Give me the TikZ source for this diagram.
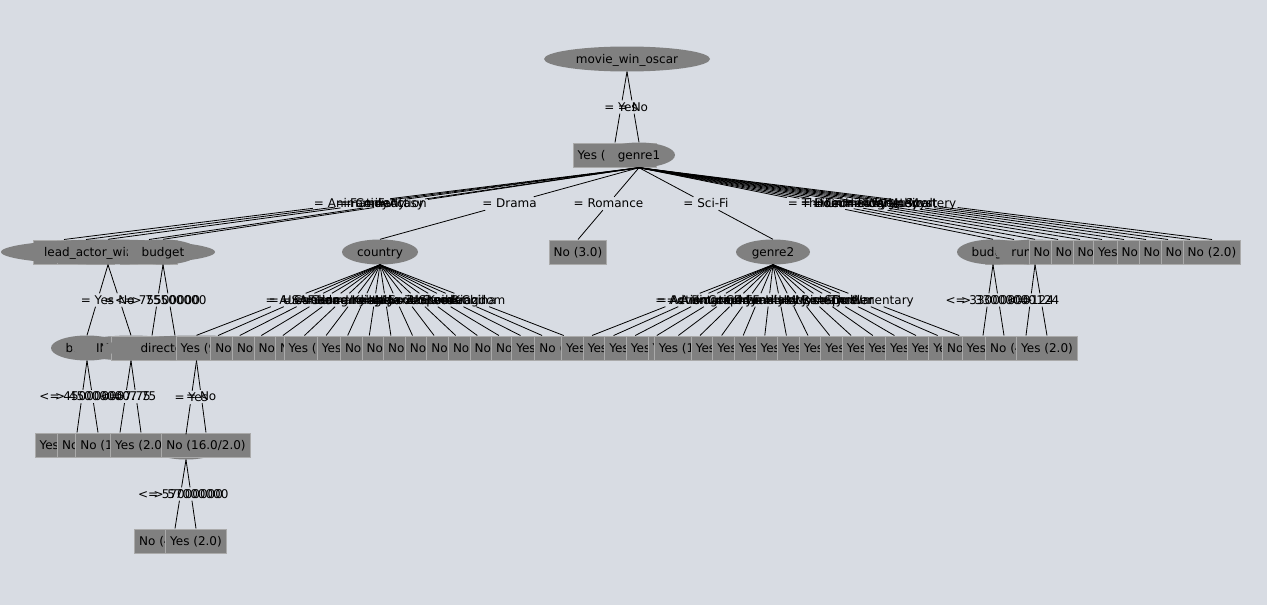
\documentclass[tikz,border=0pt]{standalone}
\usepackage{fontspec}
\setmainfont{DejaVu Sans}
\usetikzlibrary{shapes.geometric,calc}

\definecolor{canvas}{RGB}{216,220,227}
\definecolor{nodegray}{RGB}{128,128,128}
\definecolor{rimgray}{RGB}{170,170,170}

\begin{document}
\begin{tikzpicture}[
    x=1pt,
    y=-1pt,
    every node/.style={
      font=\fontsize{12}{14}\selectfont,
      text height=10pt,
      text depth=2pt
    },
    split/.style={
      ellipse,
      fill=nodegray,
      minimum height=25pt,
      inner sep=0pt
    },
    leaf/.style={
      rectangle,
      fill=nodegray,
      draw=rimgray,
      line width=1pt,
      minimum height=24pt,
      inner xsep=4.5pt,
      inner ysep=0pt
    },
    cond/.style={
      inner xsep=1pt,
      inner ysep=0.5pt
    },
    branch/.style={
      line width=0.8pt
    }
  ]
    \fill[canvas] (0,0) rectangle (1267,605);
    \useasboundingbox (0,0) rectangle (1267,605);

    % level 0 and 1
    \node[split,minimum width=166pt] (oscar) at (627,59) {movie\_win\_oscar};
    \node[leaf] (yes0) at (615,155) {Yes (7.0/1.0)};
    \node[split,minimum width=72pt] (genre1) at (639,155) {genre1};

    % level 2
    \foreach \x/\n/\t in {64/a1/Yes (1.0),86/a2/No (1.0),149/a4/No (1.0),1014/r2/No (1.0)}
      \node[leaf] (\n) at (\x,252) {\t};
    \node[split,minimum width=214pt] (lead) at (108,252) {lead\_actor\_win\_oscar};
    \node[split,minimum width=72pt] (budgetA) at (163,252) {budget};
    \node[split,minimum width=76pt] (country) at (380,252) {country};
    \node[leaf] (romance) at (578,252) {No (3.0)};
    \node[split,minimum width=74pt] (genre2) at (773,252) {genre2};
    \node[split,minimum width=72pt] (budgetB) at (993,252) {budget};
    \node[split,minimum width=80pt] (runtime) at (1035,252) {runtime};
    \foreach \x/\n/\t in {1058/r4/No (1.0),1080/r5/No (1.0),1102/r6/No (1.0),1124/r7/Yes (1.0),
        1146/r8/No (1.0),1168/r9/No (1.0),1190/r10/No (1.0),1212/r11/No (2.0)}
      \node[leaf] (\n) at (\x,252) {\t};

    % level 3
    \node[split,minimum width=72pt] (budgetC) at (87,348) {budget};
    \node[split,minimum width=118pt] (imdb) at (131,348) {IMDB\_score};
    \node[leaf] (b2) at (175,348) {Yes (3.0)};
    \node[leaf] (b1) at (152,348) {No (5.0/2.0)};
    \node[split,minimum width=190pt] (director) at (196.5,348) {director\_win\_oscar};
    \foreach \i/\t in {1/{Yes (9.0/2.0)},2/No (1.0),3/No (2.0),4/No (1.0),5/No (1.0),6/{Yes (4.0/1.0)},
        7/Yes (2.0),8/No (1.0),9/No (2.0),10/No (1.0),11/No (1.0),12/No (3.0),13/No (1.0),
        14/No (1.0),15/No (1.0),16/Yes (1.0),17/No (1.0)}
      \node[leaf] (c\i) at ({196.5+21.6*\i},348) {\t};
    \foreach \i/\t in {0/Yes (1.0),1/Yes (2.0),2/Yes (1.0),3/Yes (1.0),4/Yes (1.0),5/{Yes (12.0/1.0)},
        6/Yes (2.0),7/Yes (1.0),8/Yes (1.0),9/Yes (1.0),10/Yes (2.0),11/Yes (1.0),12/Yes (1.0),
        13/Yes (1.0),14/Yes (1.0),15/Yes (2.0),16/Yes (1.0),17/Yes (1.0)}
      \node[leaf] (s\i) at ({592+21.6*\i},348) {\t};
    \foreach \x/\n/\t in {983/u1/{No (3.0/1.0)},1004/u2/{Yes (4.0/1.0)},1026/u3/{No (4.0/1.0)},1047/u4/Yes (2.0)}
      \node[leaf] (\n) at (\x,348) {\t};

    % level 4 and 5
    \node[split,minimum width=72pt] (budgetD) at (186,447) {budget};
    \foreach \x/\n/\t in {77/d1/{Yes (5.0/2.0)},98/d2/{No (4.0/1.0)},120/d3/{No (10.0/1.0)},
        141/d4/Yes (2.0),206/d6/{No (16.0/2.0)}}
      \node[leaf] (\n) at (\x,445) {\t};
    \node[leaf] (e1) at (175,541) {No (4.0/1.0)};
    \node[leaf] (e2) at (196,541) {Yes (2.0)};

    % branches with their conditions
    \foreach \p/\c/\l in {oscar/yes0/= Yes,oscar/genre1/= No,
        genre1/a1/= Animation,genre1/a2/= Family,genre1/lead/= Comedy,genre1/a4/= Fantasy,
        genre1/budgetA/= Action,genre1/country/= Drama,genre1/romance/= Romance,genre1/genre2/= Sci-Fi,
        genre1/budgetB/= Thriller,genre1/r2/= Horror,genre1/runtime/= Crime,genre1/r4/= Documentary,
        genre1/r5/= History,genre1/r6/= War,genre1/r7/= Biography,genre1/r8/= Western,
        genre1/r9/= Musical,genre1/r10/= Sport,genre1/r11/= Mystery,
        lead/budgetC/= Yes,lead/imdb/= No,budgetA/b1/<= 75500000,budgetA/b2/> 75500000,
        country/director/= USA,
        budgetB/u1/<= 33000000,budgetB/u2/> 33000000,runtime/u3/<= 124,runtime/u4/> 124,
        budgetC/d1/<= 45000000,budgetC/d2/> 45000000,imdb/d3/<= 7.75,imdb/d4/> 7.75,
        director/budgetD/= Yes,director/d6/= No,
        budgetD/e1/<= 57000000,budgetD/e2/> 57000000}{
      \node[cond] (k\c) at ($(\p)!0.5!(\c)$) {\l};
      \draw[branch] (\p.south) -- (k\c) -- (\c.north);
    }
    \foreach \i/\l in {1/Australia,2/Canada,3/France,4/Germany,5/Hong Kong,6/India,7/Ireland,
        8/Italy,9/Japan,10/Mexico,11/New Zealand,12/South Korea,13/Spain,14/Sweden,
        15/United Kingdom,16/Brazil,17/China}{
      \node[cond] (kc\i) at ($(country)!0.5!(c\i)$) {= \l};
      \draw[branch] (country.south) -- (kc\i) -- (c\i.north);
    }
    \foreach \i/\l in {0/Action,1/Adventure,2/Animation,3/Biography,4/Comedy,5/Crime,6/Drama,
        7/Family,8/Fantasy,9/History,10/Horror,11/Musical,12/Mystery,13/Romance,14/Sport,
        15/Thriller,16/War,17/Documentary}{
      \node[cond] (ks\i) at ($(genre2)!0.5!(s\i)$) {= \l};
      \draw[branch] (genre2.south) -- (ks\i) -- (s\i.north);
    }
\end{tikzpicture}
\end{document}
